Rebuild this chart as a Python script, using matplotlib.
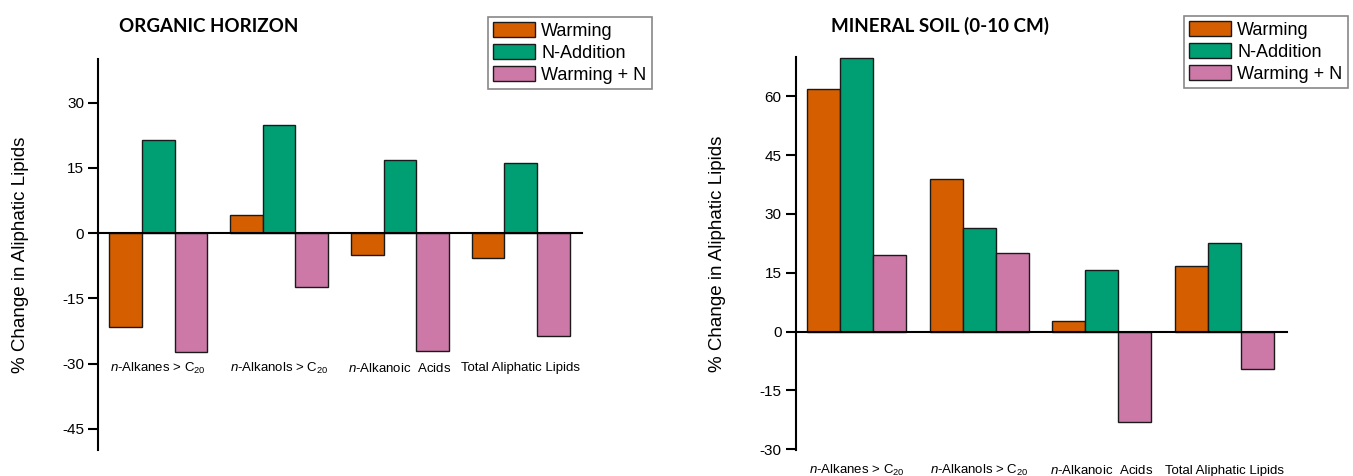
import numpy as np
import matplotlib
matplotlib.use("Agg")
import matplotlib.pyplot as plt

plt.rcParams['font.family'] = ['Liberation Sans', 'DejaVu Sans']
plt.rcParams['mathtext.fontset'] = 'custom'
plt.rcParams['mathtext.rm'] = 'Liberation Sans'
plt.rcParams['mathtext.it'] = 'Liberation Sans:italic'

categories = [r'$\it{n}$-Alkanes > C$_{20}$', r'$\it{n}$-Alkanols > C$_{20}$',
              r'$\it{n}$-Alkanoic  Acids', 'Total Aliphatic Lipids']
series_names = ['Warming', 'N-Addition', 'Warming + N']
colors = ['#D55E00', '#009E73', '#CC79A7']

# organic horizon
organic_warming = [-21.6, 4.2, -5.1, -5.7]
organic_nadd = [21.4, 24.9, 16.8, 16.0]
organic_wn = [-27.3, -12.5, -27.0, -23.7]

# mineral soil 0-10 cm
mineral_warming = [61.8, 39.0, 2.6, 16.7]
mineral_nadd = [69.7, 26.3, 15.6, 22.7]
mineral_wn = [19.4, 20.0, -23.2, -9.5]

organic_ticks = [30, 15, 0, -15, -30, -45]
mineral_ticks = [60, 45, 30, 15, 0, -15, -30]

fig = plt.figure(figsize=(13.53, 4.76), dpi=100)
ax1 = fig.add_axes([0.0724, 0.055, 0.358, 0.821])
ax2 = fig.add_axes([0.588, 0.054, 0.363, 0.826])


def draw_panel(ax, values, ticks, ylim, label_y, title, title_x, leg_xy):
    x = np.arange(len(categories))
    w = 0.27
    for k, (vals, name, c) in enumerate(zip(values, series_names, colors)):
        ax.bar(x + (k - 1) * w, vals, w, color=c, edgecolor='#1a1a1a',
               linewidth=1.0, label=name, zorder=2)
    ax.set_xlim(-0.5, 3.51)
    ax.set_ylim(*ylim)
    ax.set_yticks(ticks)
    ax.set_yticklabels([str(t) for t in ticks], fontsize=11)
    ax.spines['top'].set_visible(False)
    ax.spines['right'].set_visible(False)
    ax.spines['bottom'].set_position(('data', 0))
    ax.spines['bottom'].set_linewidth(1.5)
    ax.spines['left'].set_linewidth(1.5)
    ax.set_xticks([])
    ax.tick_params(axis='y', direction='out', length=7, width=1.5, pad=3)
    ax.set_ylabel('% Change in Aliphatic Lipids', fontsize=13.5, labelpad=24)
    for i, cat in enumerate(categories):
        ax.text(i, label_y, cat, ha='center', va='center', fontsize=9.5,
                clip_on=False)
    fig.text(title_x, 0.945, title, fontsize=13.5, fontweight='bold',
             family='Lato', va='center')
    leg = ax.legend(loc='upper left', bbox_to_anchor=leg_xy,
                    bbox_transform=fig.transFigure, fontsize=13,
                    handlelength=2.3, handleheight=0.9, handletextpad=0.35,
                    labelspacing=0.22, borderpad=0.3, borderaxespad=0,
                    fancybox=False, framealpha=1)
    leg.get_frame().set_edgecolor('#888888')
    leg.get_frame().set_linewidth(1.2)
    return leg


draw_panel(ax1, [organic_warming, organic_nadd, organic_wn], organic_ticks,
           (-49.8, 40), -31, 'ORGANIC HORIZON', 0.088,
           (488 / 1353, 1 - 17 / 476))
draw_panel(ax2, [mineral_warming, mineral_nadd, mineral_wn], mineral_ticks,
           (-30.3, 70), -35.5, 'MINERAL SOIL (0-10 CM)', 0.614,
           (1184 / 1353, 1 - 16 / 476))

fig.savefig('out.png', dpi=100)
